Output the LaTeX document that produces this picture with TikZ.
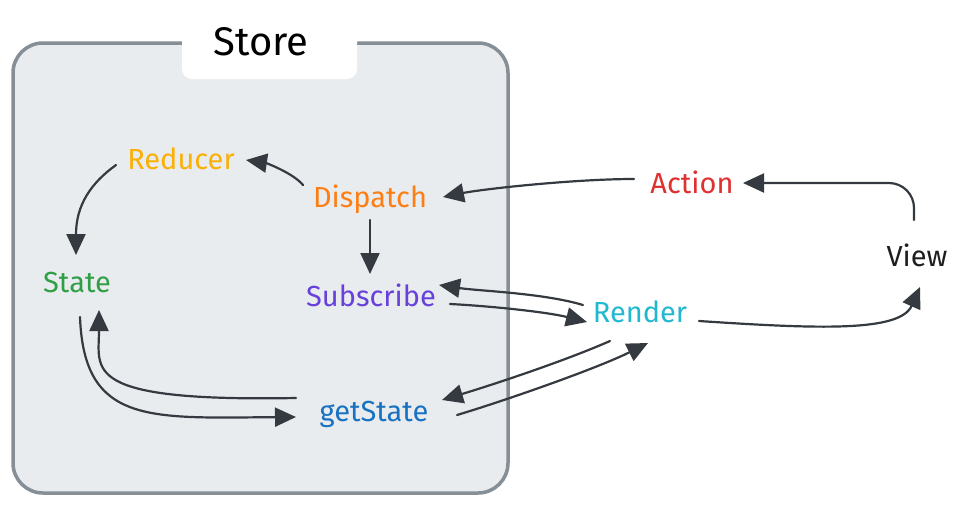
\documentclass[tikz,border=0pt]{standalone}
\usepackage{fontspec}
\setmainfont{Fira Sans}
\usetikzlibrary{arrows.meta, calc}

\definecolor{boxfill}{HTML}{E9ECEF}
\definecolor{boxline}{HTML}{868E96}
\definecolor{ink}{HTML}{343A40}
\definecolor{cReducer}{HTML}{FAB005}
\definecolor{cDispatch}{HTML}{FD7E14}
\definecolor{cState}{HTML}{2F9E44}
\definecolor{cSubscribe}{HTML}{6741D9}
\definecolor{cGetState}{HTML}{1971C2}
\definecolor{cRender}{HTML}{22B8CF}
\definecolor{cAction}{HTML}{E03131}
\definecolor{cView}{HTML}{1E1E1E}

\begin{document}
\begin{tikzpicture}[x=1pt, y=-1pt,
    label/.style={inner sep=0pt, text height=20pt, text depth=0pt,
        font=\fontsize{29}{33}\selectfont},
    arr/.style={draw=ink, line width=2.2pt, line cap=round,
        -{Triangle[length=21pt, width=19pt]}}]
    \useasboundingbox[fill=white] (0, 0) rectangle (956, 507);

    % Store box
    \draw[boxline, line width=3.5pt, fill=boxfill, rounded corners=30pt]
        (13, 43) rectangle (508, 493);
    \fill[white, rounded corners=10pt] (182, 20) rectangle (357, 79);
    \node[inner sep=0pt, text height=27pt, text depth=0pt,
        font=\fontsize{40}{44}\selectfont] (store) at (261, 42) {Store};

    % labels
    \node[label, cReducer] (reducer) at (181, 159) {Reducer};
    \node[label, cDispatch] (dispatch) at (370, 197) {Dispatch};
    \node[label, cState] (state) at (77, 282) {State};
    \node[label, cSubscribe] (subscribe) at (371, 296) {Subscribe};
    \node[label, cGetState] (getstate) at (374, 411) {getState};
    \node[label, cRender] (render) at (640, 312) {Render};
    \node[label, cAction] (action) at (692, 183) {Action};
    \node[label, cView] (view) at (917, 256) {View};

    % inside the store
    \draw[arr] ($(dispatch)+(-67,-12)$) .. controls +(-10,-12) and +(20,3) .. ($(reducer)+(65,1)$);
    \draw[arr] ($(reducer)+(-65,6)$) .. controls +(-25,18) and +(0,-50) .. ($(state)+(-1,-27)$);
    \draw[arr] ($(dispatch)+(0,23)$) -- ($(subscribe)+(-1,-22)$);
    \draw[arr] ($(getstate)+(-78,-13)$) .. controls +(-216,4) and +(0,60) .. ($(state)+(22,28)$);
    \draw[arr] ($(state)+(3,35)$) .. controls +(4,108) and +(-146,1) .. ($(getstate)+(-78,6)$);

    % outside the store
    \draw[arr] ($(action)+(-58,-4)$) .. controls +(-60,0) and +(40,-8) .. ($(dispatch)+(73,0)$);
    \draw[arr, rounded corners=25pt] ($(view)+(-3,-36)$) |- ($(action)+(51,0)$);
    \draw[arr] ($(render)+(59,9)$) .. controls +(120,8) and +(-20,45) .. ($(view)+(3,31)$);
    \draw[arr] ($(render)+(-57,-7)$) .. controls +(-40,-12) and +(40,6) .. ($(subscribe)+(68,-11)$);
    \draw[arr] ($(subscribe)+(79,8)$) .. controls +(40,2) and +(-40,-10) .. ($(render)+(-53,10)$);
    \draw[arr] ($(render)+(-30,29)$) .. controls +(-50,22) and +(40,-12) .. ($(getstate)+(68,-11)$);
    \draw[arr] ($(getstate)+(83,4)$) .. controls +(50,-15) and +(-50,25) .. ($(render)+(8,31)$);
\end{tikzpicture}
\end{document}
